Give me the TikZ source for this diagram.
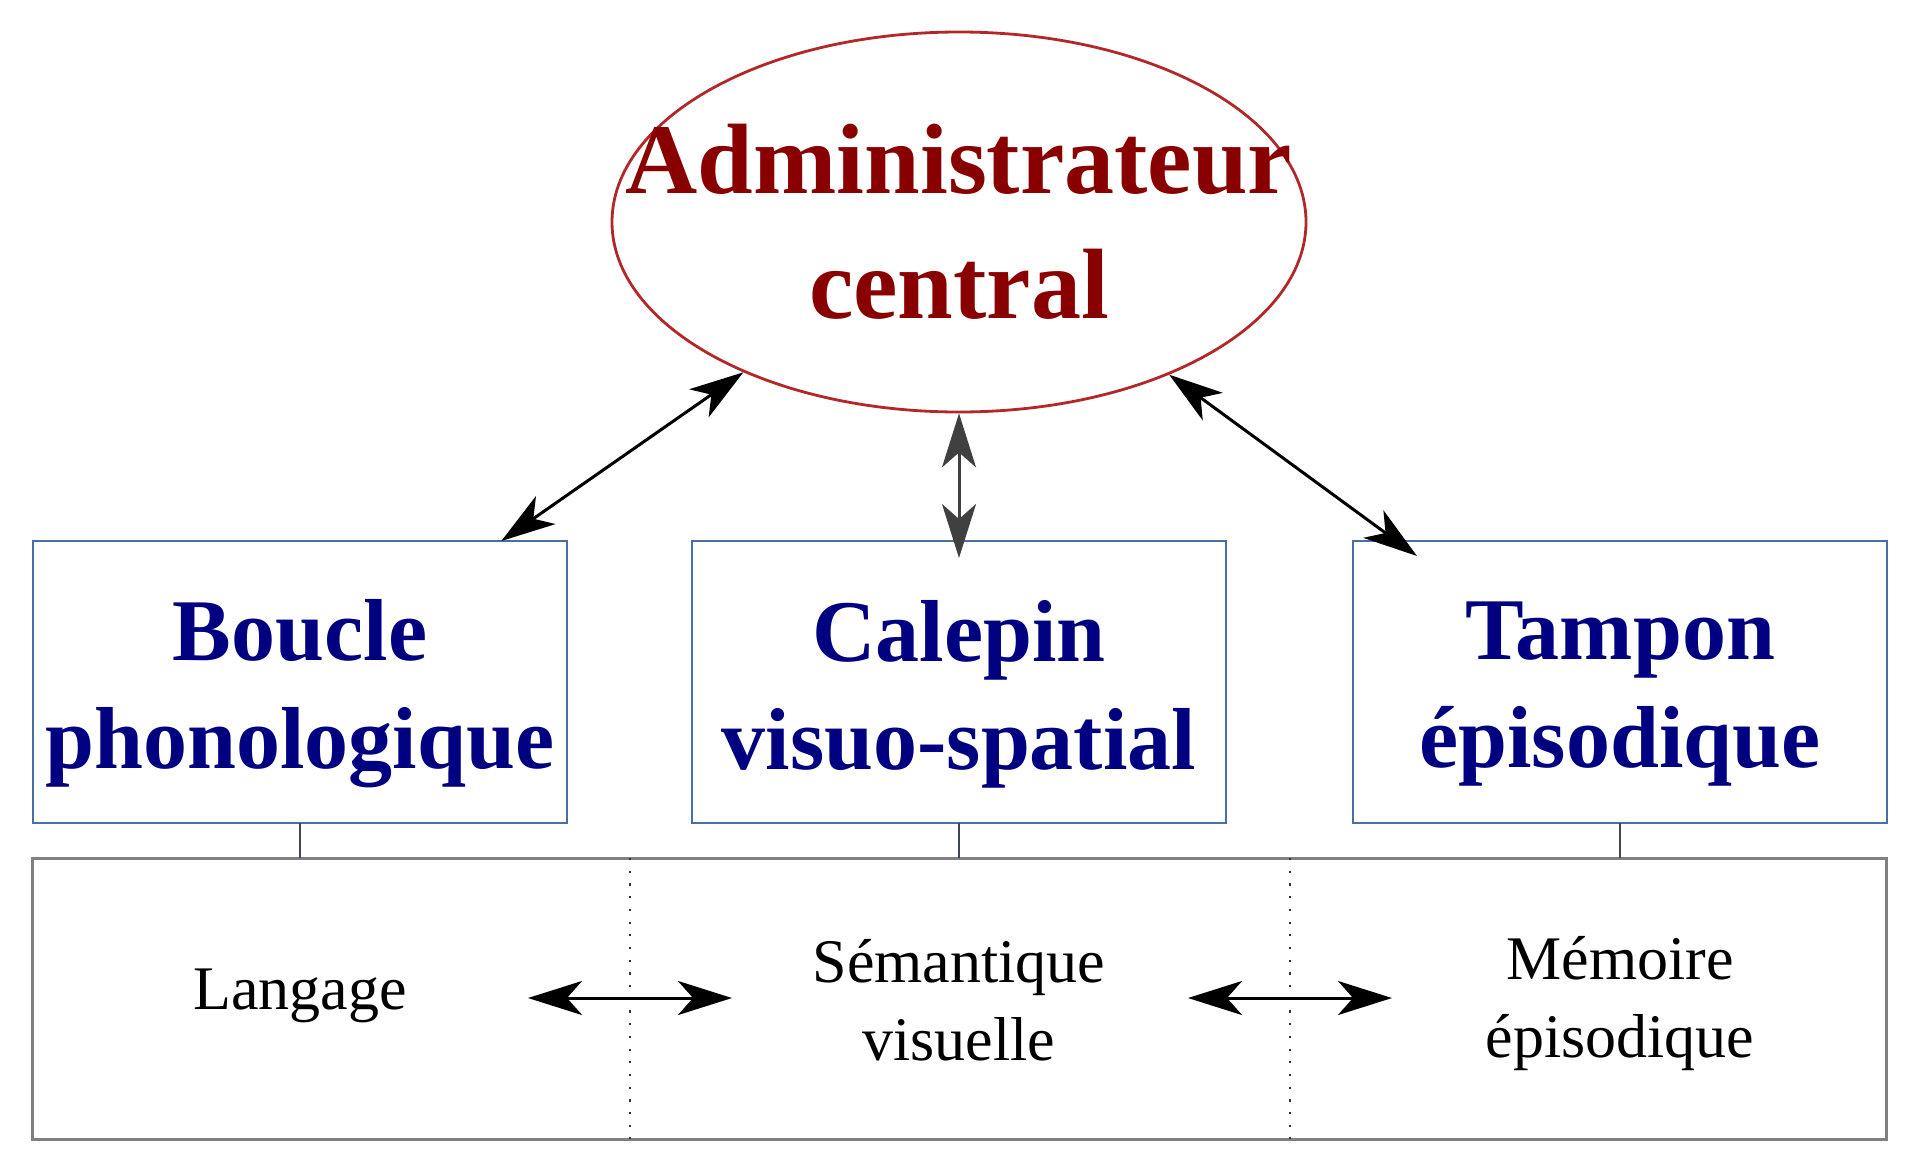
\documentclass[tikz,border=0pt]{standalone}
\usepackage{fontspec}
\setmainfont{Liberation Serif}
\usetikzlibrary{positioning,shapes.geometric,arrows.meta}

\definecolor{adminred}{RGB}{178,40,40}
\definecolor{admintext}{RGB}{136,0,0}
\definecolor{boxblue}{RGB}{74,111,165}
\definecolor{boxtext}{RGB}{0,0,128}
\definecolor{stubgray}{RGB}{60,70,85}
\definecolor{arrowgray}{RGB}{64,64,64}

\tikzset{
  module/.style={draw=boxblue, line width=1.4pt, rectangle, minimum width=267pt, minimum height=141pt,
    inner sep=0pt, outer sep=0pt,
    label={[text=boxtext, align=center, font=\fontsize{44}{54}\selectfont\bfseries, yshift=-6pt]center:#1}},
  both/.style={{Stealth[length=27pt,width=17pt,inset=7.5pt]}-{Stealth[length=27pt,width=17pt,inset=7.5pt]}, line width=1.5pt},
  memtext/.style={align=center, font=\fontsize{31}{39}\selectfont},
  sepline/.style={line width=1.1pt, black!80, dash pattern=on 1.1pt off 5.25pt},
}

\begin{document}
\begin{tikzpicture}[x=0.5pt, y=-0.5pt]
  \useasboundingbox (0,0) rectangle (1920,1173);

  \node (admin) [draw=adminred, line width=1.4pt, ellipse, minimum width=347pt, minimum height=190pt, inner sep=0pt,
    label={[text=admintext, align=center, font=\fontsize{50}{62.5}\selectfont\bfseries]center:{Administrateur\\central}}] at (959,222) {};

  \node (calepin) [module={Calepin\\visuo-spatial}] at (959,682) {};
  \node (boucle) [module={Boucle\\phonologique}, left=62.5pt of calepin] {};
  \node (tampon) [module={Tampon\\épisodique}, right=63.5pt of calepin] {};

  \node (memlt) [draw=gray, line width=1.5pt, minimum width=927pt, minimum height=140.5pt, inner sep=0pt, outer sep=0pt, below=17.5pt of calepin] {};

  \node (langage) [memtext] at (300,996) {Langage};
  \node (semant) [memtext] at (959,1000) {Sémantique\\visuelle};
  \node (episod) [memtext] at (1620,1004) {Mémoire\\épisodique};

  % executive <-> slave systems
  \draw[both] (admin) -- (boucle);
  \draw[both, arrowgray, shorten >=-8.5pt] (admin) -- (calepin);
  \draw[both] (admin.324) -- ([shift={(32pt,-7.5pt)}]tampon.north west);

  % links down to long-term memory
  \foreach \m in {boucle, calepin, tampon}
    \draw[stubgray, line width=1.3pt] (\m.south) -- (\m.south |- memlt.north);

  \coordinate (sep1) at (630,998);
  \coordinate (sep2) at (1290,998);
  \foreach \s in {sep1, sep2} {
    \draw[sepline] (\s |- memlt.north) -- (\s |- memlt.south);
    \draw[both] ([xshift=-51pt]\s) -- ([xshift=51pt]\s);
  }
\end{tikzpicture}
\end{document}
